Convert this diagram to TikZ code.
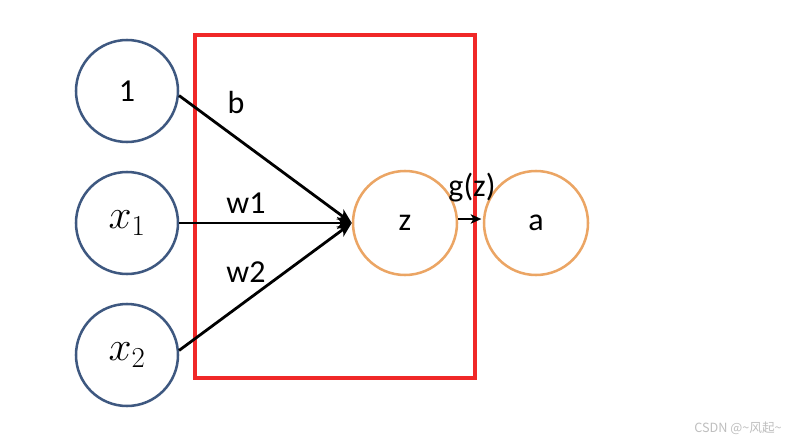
\RequirePackage{fix-cm}
\documentclass[tikz,border=0pt]{standalone}
\usepackage{amssymb,amsmath}
\usepackage{fontspec}
\setmainfont{Carlito}
\newfontfamily\cjk{Noto Sans CJK SC}
\usetikzlibrary{arrows.meta}
\usepackage{color}

\begin{document}
\begin{tikzpicture}[x=0.75pt,y=0.75pt,yscale=-1,xscale=1,
  incirc/.style={circle,draw={rgb, 255:red, 62; green, 88; blue, 128 },line width=1.9pt,minimum size=76.5pt,inner sep=0pt,font=\fontsize{24}{28}\selectfont},
  outcirc/.style={circle,draw={rgb, 255:red, 235; green, 165; blue, 100 },line width=1.9pt,minimum size=78pt,inner sep=0pt,font=\fontsize{24}{28}\selectfont},
  wlab/.style={font=\fontsize{24}{28}\selectfont,inner sep=0pt},
  wire/.style={-{Stealth[length=11pt,width=9pt,inset=3pt]},line width=2.1pt}]
\useasboundingbox (0,0) rectangle (810,443);

%Shape: Rectangle [id:box]
\draw [draw={rgb, 255:red, 240; green, 40; blue, 40 },line width=3pt] (195,35) rectangle (475,378) ;

%Shape: Circle [id:one]
\node [incirc] (one) at (127,91) {1};
%Shape: Circle [id:xa]
\node [incirc] (xa) at (127,223) {\fontsize{31}{36}\selectfont $x_1$};
%Shape: Circle [id:xb]
\node [incirc] (xb) at (127,355) {\fontsize{31}{36}\selectfont $x_2$};
%Shape: Circle [id:z]
\node [outcirc] (z) at (405,223) {z};
%Shape: Circle [id:a]
\node [outcirc] (a) at (536,223) {a};

%Straight Lines [id:b]
\draw [wire] (one.-5) -- (z.west) ;
%Straight Lines [id:w1]
\draw [wire] (xa.east) -- (z.west) ;
%Straight Lines [id:w2]
\draw [wire] (xb.5) -- (z.west) ;
%Straight Lines [id:gz]
\draw [-{Stealth[length=8pt,width=7pt,inset=2pt]},line width=2.1pt] ([yshift=-3pt]z.east) -- ([yshift=-3pt,xshift=-1pt]a.west) ;

% labels
\node [wlab] (lb) at (236,102) {b};
\node [wlab] (lw1) at (246,203) {w1};
\node [wlab] (lw2) at (246,272) {w2};
\node [wlab] (lg) at (472,188) {g(z)};

% watermark
\node [font=\cjk\fontsize{9.5}{11}\selectfont,text={rgb, 255:red, 190; green, 190; blue, 190 },inner sep=0pt] (mark) at (738,428) {CSDN @\textasciitilde 风起\textasciitilde};

\end{tikzpicture}
\end{document}
